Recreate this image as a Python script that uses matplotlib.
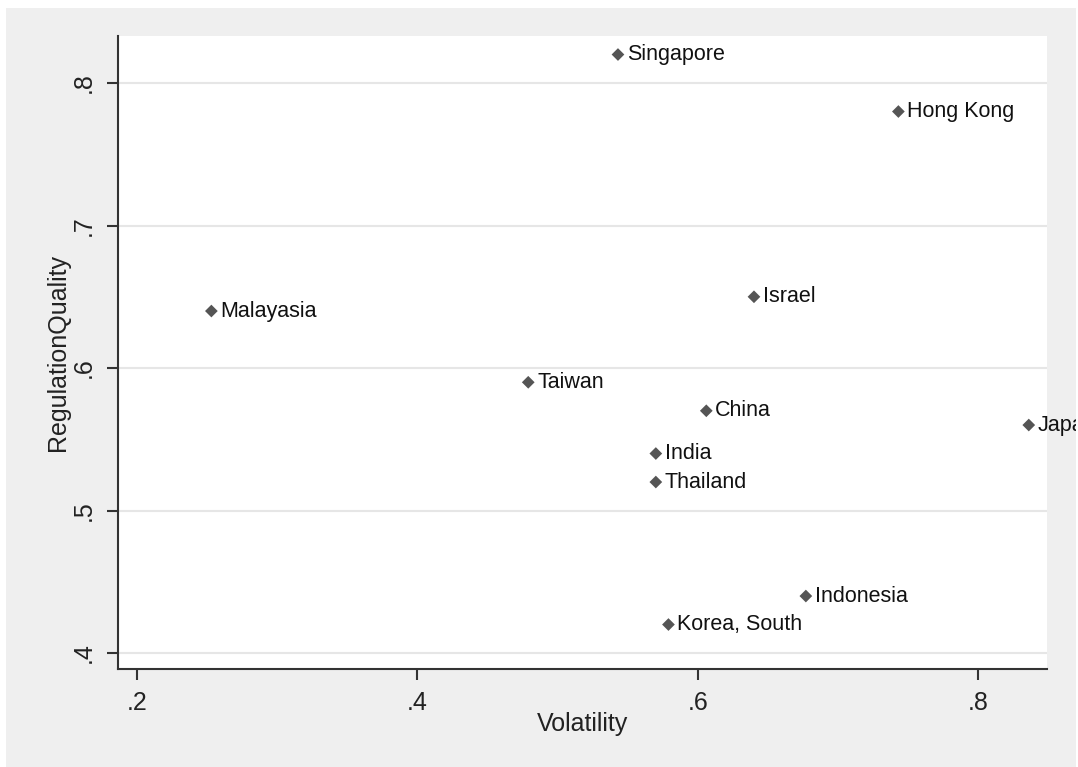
import matplotlib.pyplot as plt
from matplotlib.patches import Rectangle
from matplotlib.transforms import Bbox, TransformedBbox

plt.rcParams['font.family'] = ['Liberation Sans', 'DejaVu Sans']

# Country-level values
countries = ['Singapore', 'Hong Kong', 'Malayasia', 'Israel', 'Taiwan', 'China',
             'Japan', 'India', 'Thailand', 'Indonesia', 'Korea, South']
volatility = [0.543, 0.743, 0.253, 0.640, 0.479, 0.606, 0.836, 0.570, 0.570, 0.677, 0.579]
regulation_quality = [0.82, 0.78, 0.64, 0.65, 0.59, 0.57, 0.56, 0.54, 0.52, 0.44, 0.42]

x_ticks = [0.2, 0.4, 0.6, 0.8]
x_tick_labels = ['.2', '.4', '.6', '.8']
y_ticks = [0.4, 0.5, 0.6, 0.7, 0.8]
y_tick_labels = ['.4', '.5', '.6', '.7', '.8']

W, H = 1078, 767
fig = plt.figure(figsize=(W / 100, H / 100), dpi=100, facecolor='white')
# gray graph region behind the plot area
fig.patches.append(Rectangle((6 / W, 0), 1070 / W, 759 / H, transform=fig.transFigure,
                             facecolor='#efefef', edgecolor='none', zorder=-10))
graph_box = TransformedBbox(Bbox([[6 / W, 0], [1076 / W, 759 / H]]), fig.transFigure)

ax = fig.add_axes([118 / W, 1 - 669 / H, (1047 - 118) / W, (669 - 36) / H])
ax.set_zorder(1)
ax.set_facecolor('white')

ax.scatter(volatility, regulation_quality, marker='D', s=42, color='#555555',
           edgecolors='none', zorder=3)
for name, x, y in zip(countries, volatility, regulation_quality):
    t = ax.annotate(name, (x, y), xytext=(9, 0), textcoords='offset pixels',
                    ha='left', va='center', fontsize=15.5, color='#111111',
                    annotation_clip=False)
    t.set_clip_box(graph_box)
    t.set_clip_on(True)

ax.set_xlim(0.1864, 0.849)
ax.set_ylim(0.3888, 0.833)

ax.set_xticks(x_ticks)
ax.set_xticklabels(x_tick_labels)
ax.set_yticks(y_ticks)
ax.set_yticklabels(y_tick_labels, rotation=90, va='center')

ax.grid(axis='y', color='#e6e6e6', linewidth=1.5)
ax.set_axisbelow(True)

for side in ['top', 'right']:
    ax.spines[side].set_visible(False)
for side in ['left', 'bottom']:
    ax.spines[side].set_color('#333333')
    ax.spines[side].set_linewidth(1.5)

ax.tick_params(axis='both', direction='out', length=8, width=1.5, color='#333333',
               labelsize=18, labelcolor='#222222', pad=8)

ax.set_xlabel('Volatility', fontsize=18, color='#222222', labelpad=-2)
ax.set_ylabel('RegulationQuality', fontsize=18, color='#222222', labelpad=1)

fig.savefig('out.png', dpi=100, facecolor=fig.get_facecolor())
